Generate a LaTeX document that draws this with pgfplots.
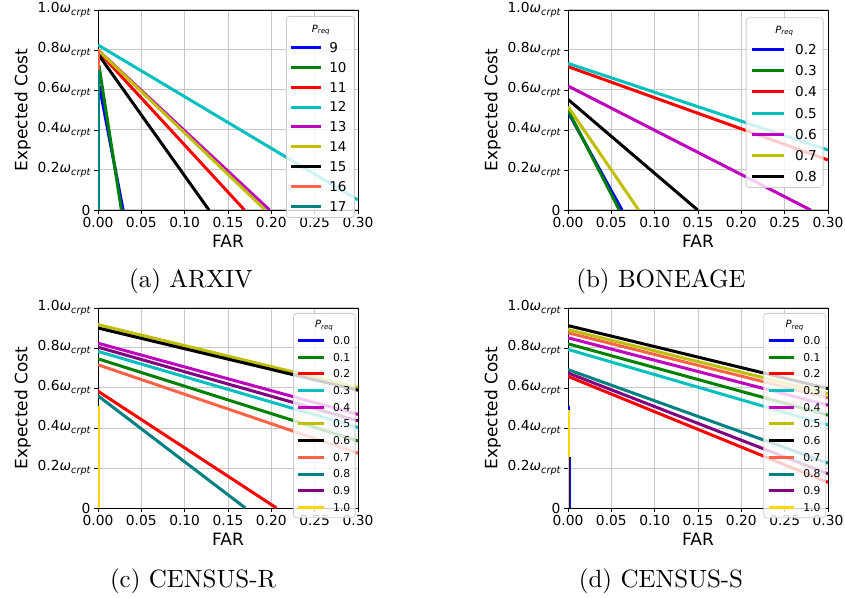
\documentclass[border=0pt]{standalone}
\usepackage{fontspec}
\usepackage{pgfplots}
\pgfplotsset{compat=1.18}
\newfontfamily\dejavu{DejaVu Sans}
\newfontfamily\lmten{lmroman10-regular}[Extension=.otf]

\definecolor{mplb}{rgb}{0,0,1}
\definecolor{mplg}{rgb}{0,0.5,0}
\definecolor{mplr}{rgb}{1,0,0}
\definecolor{mplc}{rgb}{0,0.75,0.75}
\definecolor{mplm}{rgb}{0.75,0,0.75}
\definecolor{mply}{rgb}{0.75,0.75,0}
\definecolor{mplk}{rgb}{0,0,0}
\definecolor{mpltomato}{rgb}{1,0.388,0.278}
\definecolor{mplteal}{rgb}{0,0.5,0.5}
\definecolor{mplpurple}{rgb}{0.5,0,0.5}
\definecolor{mplgold}{rgb}{1,0.843,0}

% omega_crpt as it is set in the tick labels
\newcommand{\om}{\textit{ω}\raisebox{-0.35ex}{\fontsize{9.7}{10}\selectfont\itshape crpt}}
% legend title, shifted left over the handle column
\newcommand{\ltitle}[1]{{\fontsize{10}{11}\selectfont\hspace*{#1}\textit{P}\raisebox{-0.3ex}{\fontsize{7}{8}\selectfont\itshape req}}}

\pgfplotsset{
  panel/.style={
    scale only axis, width=260pt, height=200pt,
    anchor=south west,
    xmin=0, xmax=0.3, ymin=0, ymax=1,
    xtick={0,0.05,0.1,0.15,0.2,0.25,0.3},
    xticklabels={0.00,0.05,0.10,0.15,0.20,0.25,0.30},
    ytick={0,0.2,0.4,0.6,0.8,1},
    yticklabels={0,0.2\om,0.4\om,0.6\om,0.8\om,1.0\om},
    tick pos=left, tick align=outside, major tick length=4pt,
    tick style={black, line width=0.9pt},
    axis line style={line width=0.9pt},
    grid=major, grid style={black!22, line width=1pt},
    tick label style={font=\dejavu\fontsize{13.8}{15}\selectfont},
    label style={font=\dejavu\fontsize{17}{19}\selectfont},
    xlabel=FAR, ylabel=Expected Cost,
    xlabel style={at={(axis description cs:0.5,-0.155)}, anchor=center},
    ylabel style={at={(axis description cs:-0.29,0.5)}, anchor=center},
    no markers,
    every axis plot/.append style={line width=3pt},
    legend cell align=left,
  },
  legbox/.style={legend style={draw=black!20, fill=white, fill opacity=0.8,
      draw opacity=1, text opacity=1, rounded corners=3pt, line width=0.8pt,
      anchor=north west}},
}

\begin{document}
\begin{tikzpicture}
\useasboundingbox (0,0) rectangle (845pt,597pt);

% (a) ARXIV
\begin{axis}[panel, legbox, at={(98pt,387pt)},
    legend image code/.code={\draw[#1] (0pt,0pt) -- (30pt,0pt);},
    legend style={inner xsep=3pt, inner ysep=6.1pt, at={(axis description cs:0.723,0.97)},
      row sep=10.06pt, column sep=7pt,
      font=\dejavu\fontsize{13.5}{14}\selectfont,
      nodes={inner sep=0pt, text width=22pt, align=left, text height=9.84pt, text depth=0pt}}]
\addlegendimage{empty legend}
\addplot[mplb] coordinates {(0.0015,0.62) (0.029,0)};
\addplot[mplg] coordinates {(0.001,0.725) (0.027,0)};
\addplot[mplr] coordinates {(0,0.795) (0.169,0)};
\addplot[mplc] coordinates {(0,0.825) (0.3,0.05)};
\addplot[mplm] coordinates {(0,0.80) (0.198,0)};
\addplot[mply] coordinates {(0,0.80) (0.193,0)};
\addplot[mplk] coordinates {(0,0.78) (0.128,0)};
\addplot[mpltomato] coordinates {(0,0.80) (0,0)};
\addplot[mplteal] coordinates {(0,0.70) (0,0)};
\legend{\ltitle{-17.5pt},9,10,11,12,13,14,15,16,17}
\end{axis}
\node[font=\lmten\fontsize{25}{29}\selectfont, anchor=base] at (191pt,309pt) {(a) ARXIV};

% (b) BONEAGE
\begin{axis}[panel, legbox, at={(568pt,387pt)},
    legend image code/.code={\draw[#1] (0pt,0pt) -- (31.7pt,0pt);},
    legend style={inner xsep=4.3pt, inner ysep=5.7pt, at={(axis description cs:0.6835,0.9635)},
      row sep=11.29pt, column sep=10pt,
      font=\dejavu\fontsize{13.6}{14}\selectfont,
      nodes={inner sep=0pt, text width=23.7pt, align=left, text height=9.91pt, text depth=0pt}}]
\addlegendimage{empty legend}
\addplot[mplb] coordinates {(0,0.49) (0.0623,0)};
\addplot[mplg] coordinates {(0,0.50) (0.0592,0)};
\addplot[mplr] coordinates {(0,0.717) (0.3,0.25)};
\addplot[mplc] coordinates {(0,0.733) (0.3,0.30)};
\addplot[mplm] coordinates {(0,0.62) (0.28,0)};
\addplot[mply] coordinates {(0,0.517) (0.0815,0)};
\addplot[mplk] coordinates {(0,0.553) (0.1496,0)};
\legend{\ltitle{-19.7pt},0.2,0.3,0.4,0.5,0.6,0.7,0.8}
\end{axis}
\node[font=\lmten\fontsize{25}{29}\selectfont, anchor=base] at (661pt,309pt) {(b) BONEAGE};

% (c) CENSUS-R
\begin{axis}[panel, legbox, at={(98pt,89pt)},
    legend image code/.code={\draw[#1] (0pt,0pt) -- (25.7pt,0pt);},
    legend style={inner xsep=3pt, inner ysep=6.4pt, at={(axis description cs:0.75,0.975)},
      row sep=8.83pt, column sep=8pt,
      font=\dejavu\fontsize{10.8}{12}\selectfont,
      nodes={inner sep=0pt, text width=19pt, align=left, text height=7.87pt, text depth=0pt}}]
\addlegendimage{empty legend}
\addplot[mplb] coordinates {(0,0.51) (0,0)};
\addplot[mplg] coordinates {(0,0.746) (0.3,0.335)};
\addplot[mplr] coordinates {(0,0.584) (0.206,0)};
\addplot[mplc] coordinates {(0,0.783) (0.3,0.403)};
\addplot[mplm] coordinates {(0,0.824) (0.3,0.468)};
\addplot[mply] coordinates {(0,0.917) (0.3,0.602)};
\addplot[mplk] coordinates {(0,0.900) (0.3,0.589)};
\addplot[mpltomato] coordinates {(0,0.716) (0.3,0.274)};
\addplot[mplteal] coordinates {(0,0.561) (0.170,0)};
\addplot[mplpurple] coordinates {(0,0.804) (0.3,0.436)};
\addplot[mplgold] coordinates {(0.0004,0.51) (0.0004,0)};
\addplot[mplgold, line width=1.2pt, forget plot] coordinates {(0.0019,0.255) (0.0019,0)};
\legend{\ltitle{-18pt},0.0,0.1,0.2,0.3,0.4,0.5,0.6,0.7,0.8,0.9,1.0}
\end{axis}
\node[font=\lmten\fontsize{25}{29}\selectfont, anchor=base] at (193pt,10pt) {(c) CENSUS-R};

% (d) CENSUS-S
\begin{axis}[panel, legbox, at={(568pt,89pt)},
    legend image code/.code={\draw[#1] (0pt,0pt) -- (25.6pt,0pt);},
    legend style={inner xsep=3.4pt, inner ysep=6.4pt, at={(axis description cs:0.751,0.975)},
      row sep=8.83pt, column sep=7.7pt,
      font=\dejavu\fontsize{10.8}{12}\selectfont,
      nodes={inner sep=0pt, text width=18.9pt, align=left, text height=7.87pt, text depth=0pt}}]
\addlegendimage{empty legend}
\addplot[mplb] coordinates {(0,0.51) (0,0)};
\addplot[mplg] coordinates {(0,0.821) (0.3,0.464)};
\addplot[mplr] coordinates {(0,0.658) (0.3,0.128)};
\addplot[mplc] coordinates {(0,0.793) (0.3,0.415)};
\addplot[mplm] coordinates {(0,0.851) (0.3,0.514)};
\addplot[mply] coordinates {(0,0.892) (0.3,0.572)};
\addplot[mplk] coordinates {(0,0.912) (0.3,0.597)};
\addplot[mpltomato] coordinates {(0,0.876) (0.3,0.551)};
\addplot[mplteal] coordinates {(0,0.692) (0.3,0.224)};
\addplot[mplpurple] coordinates {(0,0.675) (0.3,0.171)};
\addplot[mplgold] coordinates {(0.0004,0.49) (0.0004,0)};
\addplot[mplb, line width=1.2pt, forget plot] coordinates {(0.0022,0.255) (0.0022,0)};
\legend{\ltitle{-17.7pt},0.0,0.1,0.2,0.3,0.4,0.5,0.6,0.7,0.8,0.9,1.0}
\end{axis}
\node[font=\lmten\fontsize{25}{29}\selectfont, anchor=base] at (661pt,10pt) {(d) CENSUS-S};
\end{tikzpicture}
\end{document}
